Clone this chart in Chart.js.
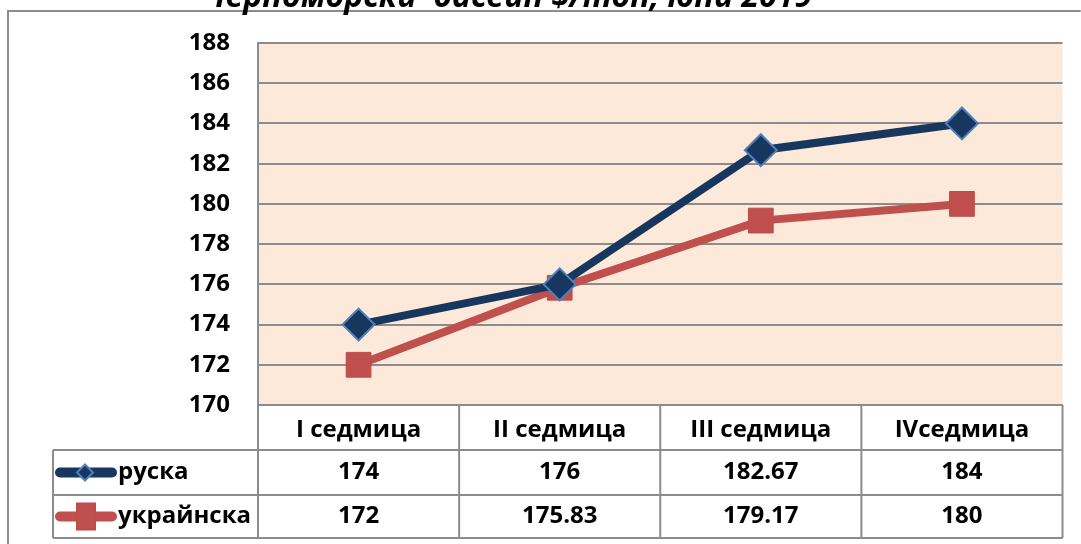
<!DOCTYPE html>
<html>
<head>
<meta charset="utf-8">
<script src="https://cdn.jsdelivr.net/npm/chart.js@4"></script>
<style>
  html, body { margin: 0; padding: 0; background: #fff; }
  #wrap { width: 1081px; height: 544px; position: relative; }
</style>
</head>
<body>
<div id="wrap"><canvas id="chart" width="1081" height="544"></canvas></div>
<script>
(function() {
  'use strict';

  var titleText = 'Черноморски  басейн $/тон, юни 2019';
  var weeks = ['I седмица', 'II седмица', 'III седмица', 'IVседмица'];
  var seriesNames = ['руска', 'украйнска'];
  var russian = [174, 176, 182.67, 184];
  var ukrainian = [172, 175.83, 179.17, 180];
  var yMin = 170;
  var yMax = 188;
  var yStep = 2;

  var FONT = '"Open Sans", Lato, sans-serif';
  var navy = '#17375E';
  var navyEdge = '#4F81BD';
  var red = '#C0504D';
  var gridGray = '#8C8C8C';

  var tablePlugin = {
    id: 'tablePlugin',
    beforeDraw: function(chart) {
      var a = chart.chartArea;
      var ctx = chart.ctx;
      ctx.save();
      ctx.fillStyle = '#FDE9DA';
      ctx.fillRect(a.left, a.top, a.right - a.left, a.bottom - a.top);
      ctx.restore();
    },
    afterDraw: function(chart) {
      var a = chart.chartArea;
      var ctx = chart.ctx;
      var xs = chart.scales.x;
      var n = weeks.length;
      var bounds = [a.left];
      for (var i = 0; i < n - 1; i++) {
        bounds.push((xs.getPixelForValue(i) + xs.getPixelForValue(i + 1)) / 2);
      }
      bounds.push(a.right);

      var headBottom = a.bottom + 45;
      var row1Bottom = headBottom + 45;
      var row2Bottom = row1Bottom + 43;
      var legendLeft = 53;

      ctx.save();
      ctx.strokeStyle = gridGray;
      ctx.lineWidth = 2;
      ctx.beginPath();
      ctx.moveTo(a.left, a.bottom); ctx.lineTo(a.right, a.bottom);
      ctx.moveTo(legendLeft, headBottom); ctx.lineTo(a.right, headBottom);
      ctx.moveTo(legendLeft, row1Bottom); ctx.lineTo(a.right, row1Bottom);
      ctx.moveTo(legendLeft, row2Bottom); ctx.lineTo(a.right, row2Bottom);
      for (var b = 0; b < bounds.length; b++) {
        ctx.moveTo(bounds[b], a.bottom); ctx.lineTo(bounds[b], row2Bottom);
      }
      ctx.moveTo(legendLeft, headBottom); ctx.lineTo(legendLeft, row2Bottom);
      ctx.stroke();

      // row labels with legend swatches
      var rows = [
        { name: seriesNames[0], data: russian, y: (headBottom + row1Bottom) / 2, ds: chart.data.datasets[0] },
        { name: seriesNames[1], data: ukrainian, y: (row1Bottom + row2Bottom) / 2, ds: chart.data.datasets[1] }
      ];
      ctx.font = 'bold 24px ' + FONT;
      ctx.textBaseline = 'middle';
      rows.forEach(function(r) {
        ctx.strokeStyle = r.ds.borderColor;
        ctx.lineWidth = 10;
        ctx.lineCap = 'round';
        ctx.beginPath();
        ctx.moveTo(60, r.y); ctx.lineTo(112, r.y);
        ctx.stroke();
        ctx.fillStyle = r.ds.pointBackgroundColor;
        ctx.strokeStyle = r.ds.pointBorderColor;
        ctx.lineWidth = 2;
        ctx.beginPath();
        if (r.ds.pointStyle === 'rect') {
          ctx.rect(77, r.y - 13, 18, 26);
        } else {
          ctx.moveTo(85, r.y - 8); ctx.lineTo(93, r.y); ctx.lineTo(85, r.y + 8); ctx.lineTo(77, r.y); ctx.closePath();
        }
        ctx.fill();
        ctx.stroke();

        ctx.fillStyle = '#000';
        ctx.textAlign = 'left';
        ctx.fillText(r.name, 118, r.y);
        ctx.textAlign = 'center';
        for (var k = 0; k < r.data.length; k++) {
          ctx.fillText(String(r.data[k]), xs.getPixelForValue(k), r.y);
        }
      });

      // outer frame
      ctx.strokeStyle = gridGray;
      ctx.lineWidth = 2;
      ctx.beginPath();
      ctx.moveTo(8, 560); ctx.lineTo(8, 11); ctx.lineTo(1080, 11);
      ctx.stroke();

      // title (cut off at top of the picture)
      ctx.fillStyle = '#000';
      ctx.font = 'italic bold 32px ' + FONT;
      ctx.textAlign = 'center';
      ctx.textBaseline = 'alphabetic';
      ctx.fillText(titleText, 508, 7);
      ctx.restore();
    }
  };

  new Chart(document.getElementById('chart'), {
    type: 'line',
    data: {
      labels: weeks,
      datasets: [{
        label: seriesNames[0],
        data: russian,
        borderColor: navy,
        borderWidth: 8,
        pointStyle: 'rectRot',
        pointRadius: 16,
        pointBackgroundColor: navy,
        pointBorderColor: navyEdge,
        pointBorderWidth: 2,
        tension: 0
      }, {
        label: seriesNames[1],
        data: ukrainian,
        borderColor: red,
        borderWidth: 8,
        pointStyle: 'rect',
        pointRadius: 17.5,
        pointBackgroundColor: red,
        pointBorderColor: '#BE4B48',
        pointBorderWidth: 1,
        tension: 0
      }]
    },
    options: {
      responsive: false,
      animation: false,
      layout: { padding: { left: 0, top: 43, right: 16, bottom: 0 } },
      plugins: {
        legend: { display: false },
        tooltip: { enabled: false }
      },
      scales: {
        x: {
          offset: true,
          grid: { display: false, drawTicks: false },
          border: { display: false },
          ticks: {
            color: '#000',
            padding: 11,
            font: { family: FONT, size: 24, weight: 'bold' }
          },
          afterFit: function(scale) { scale.height = 139; }
        },
        y: {
          min: yMin,
          max: yMax,
          grid: { color: gridGray, lineWidth: 2, drawTicks: false },
          border: { display: true, color: gridGray, width: 2 },
          ticks: {
            stepSize: yStep,
            color: '#000',
            padding: 28,
            font: { family: FONT, size: 24, weight: 'bold' }
          },
          afterFit: function(scale) { scale.width = 258; }
        }
      }
    },
    plugins: [tablePlugin]
  });
})();
</script>
</body>
</html>
